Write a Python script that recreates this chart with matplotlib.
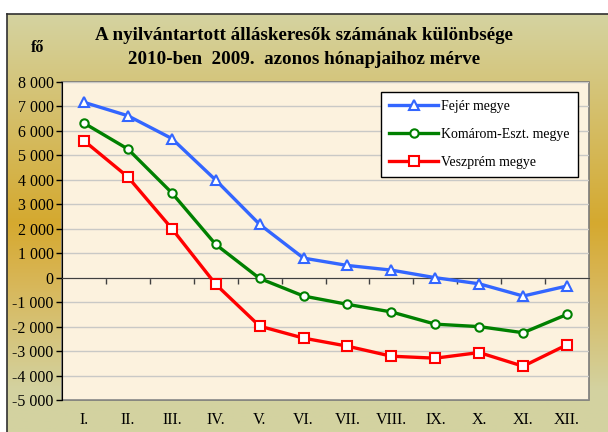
import numpy as np
import matplotlib
matplotlib.use('Agg')
import matplotlib.pyplot as plt
from matplotlib.colors import LinearSegmentedColormap
from matplotlib.patches import Rectangle

# months and county series (fő, 2010 vs 2009 same month)
months = ['I.', 'II.', 'III.', 'IV.', 'V.', 'VI.', 'VII.', 'VIII.', 'IX.', 'X.', 'XI.', 'XII.']
fejer = [7170, 6620, 5690, 3990, 2180, 800, 500, 310, 0, -250, -750, -340]
komarom = [6320, 5260, 3470, 1360, -30, -750, -1090, -1400, -1900, -2000, -2250, -1500]
veszprem = [5600, 4120, 2010, -270, -1980, -2470, -2800, -3210, -3290, -3060, -3620, -2740]
yticks = list(range(-5000, 8001, 1000))

plt.rcParams['font.family'] = ['Liberation Serif', 'DejaVu Serif']

fig = plt.figure(figsize=(6.08, 4.32), dpi=100)
fig.patch.set_facecolor('white')

# gradient background panel
bg = fig.add_axes([7 / 608, 0, 601 / 608, 418 / 432])
cmap = LinearSegmentedColormap.from_list(
    'gold', [(0.0, '#d4d3a1'), (0.5, '#d5a92f'), (0.62, '#d8b451'), (0.9, '#d3d2a0'), (1.0, '#d3d3a1')])
grad = np.linspace(0, 1, 256).reshape(-1, 1)
bg.imshow(grad, aspect='auto', cmap=cmap, extent=[0, 1, 0, 1], origin='upper')
bg.set_xlim(0, 1)
bg.set_ylim(0, 1)
bg.set_xticks([])
bg.set_yticks([])
for pos in ['right', 'bottom']:
    bg.spines[pos].set_visible(False)
for pos in ['top', 'left']:
    bg.spines[pos].set_color('#303030')
    bg.spines[pos].set_linewidth(1.2)

ax = fig.add_axes([62 / 608, 1 - 400 / 432, 527 / 608, 318 / 432])
ax.set_facecolor('#fcf2de')
ax.set_xlim(0, 12)
ax.set_ylim(-5000, 8000)
ax.set_yticks(yticks)
ax.set_yticklabels([f'{v:,}'.replace(',', ' ') if v >= 0 else '-' + f'{-v:,}'.replace(',', ' ')
                    for v in yticks], fontsize=11.5)
ax.yaxis.grid(True, color='#c9c9c6', linewidth=1)
ax.set_axisbelow(True)
ax.tick_params(axis='y', direction='out', length=4, width=1, pad=2)

# category axis on the zero line
ax.spines['bottom'].set_position(('data', 0))
ax.spines['bottom'].set_color('#404040')
ax.set_xticks(range(1, 12))
ax.set_xticklabels([])
ax.tick_params(axis='x', direction='out', length=4, width=1, color='#404040')
for pos in ['top', 'right']:
    ax.spines[pos].set_visible(False)
ax.spines['left'].set_color('black')
ax.add_patch(Rectangle((0, 0), 1, 1, transform=ax.transAxes, fill=False,
                       edgecolor='#7a7a7a', linewidth=1.2, clip_on=False, zorder=0.5))

xs = np.arange(len(months)) + 0.5
for i, m in enumerate(months):
    ax.text(xs[i], -0.063, m, transform=ax.get_xaxis_transform(), ha='center', va='center', fontsize=11.5)

ax.plot(xs, fejer, color='#3366ff', lw=2.4, marker='^', ms=7.5, mfc='white', mec='#3366ff', mew=1.5,
        label='Fejér megye', zorder=3)
ax.plot(xs, komarom, color='#008000', lw=2.4, marker='o', ms=6, mfc='white', mec='#008000', mew=1.5,
        label='Komárom-Eszt. megye', zorder=3)
ax.plot(xs, veszprem, color='#ff0000', lw=2.4, marker='s', ms=6.5, mfc='white', mec='#ff0000', mew=1.5,
        label='Veszprém megye', zorder=3)

leg = ax.legend(loc='upper left', bbox_to_anchor=(381 / 608, 1 - 92 / 432), bbox_transform=fig.transFigure,
                fontsize=10, frameon=True, fancybox=False, framealpha=1, edgecolor='black',
                handlelength=3.5, labelspacing=1.06, borderpad=0.6, handletextpad=0.25, borderaxespad=0)
leg.get_frame().set_linewidth(1.0)

fig.text(0.5, 1 - 35 / 432, 'A nyilvántartott álláskeresők számának különbsége',
         ha='center', va='center', fontsize=13.7, fontweight='bold')
fig.text(0.5, 1 - 60 / 432, '2010-ben  2009.  azonos hónapjaihoz mérve',
         ha='center', va='center', fontsize=13.7, fontweight='bold')
fig.text(38 / 608, 1 - 48 / 432, 'fő', ha='center', va='center', fontsize=11.5, fontweight='bold')

fig.savefig('out.png', dpi=100)
